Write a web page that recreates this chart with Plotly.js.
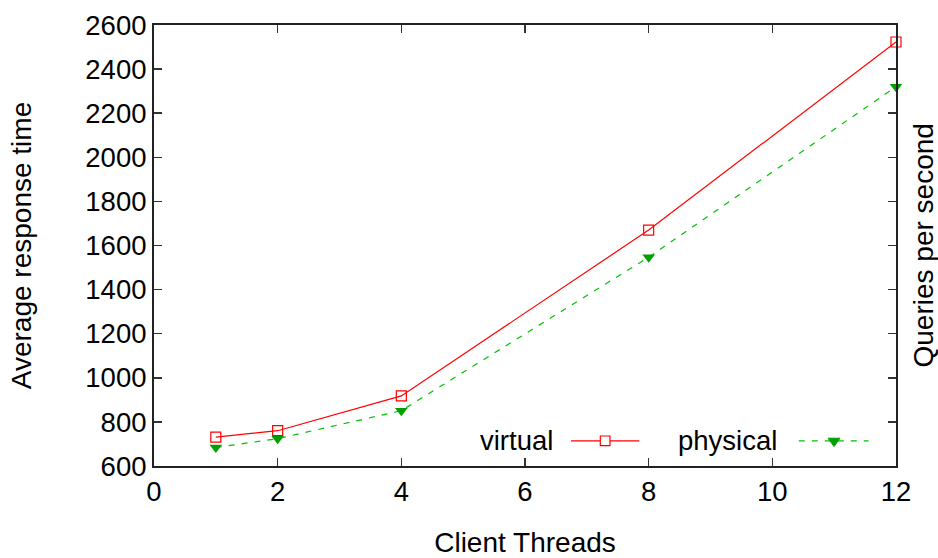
<!DOCTYPE html>
<html>
<head>
<meta charset="utf-8">
<script src="https://cdn.plot.ly/plotly-3.0.1.min.js"></script>
<style>html,body{margin:0;padding:0;background:#fff;}#chart{width:938px;height:558px;}</style>
</head>
<body>
<div id="chart"></div>
<script>
// Data
const clientThreads = [1, 2, 4, 8, 12];
const virtualValues = [731, 760, 918, 1670, 2523];
const physicalValues = [684, 724, 851, 1547, 2320];
const seriesNames = ["virtual", "physical"];
const xTickValues = [0, 2, 4, 6, 8, 10, 12];
const yTickValues = [600, 800, 1000, 1200, 1400, 1600, 1800, 2000, 2200, 2400, 2600];

const FONT = "Liberation Sans, Arial, Helvetica, sans-serif";
const FS = 27.5;
const TFS = 28;

const traces = [
  {
    x: clientThreads, y: virtualValues, name: seriesNames[0],
    mode: "lines+markers", type: "scatter", cliponaxis: false,
    line: {color: "#ff0000", width: 1.2},
    marker: {symbol: "square-open", size: 10, color: "#ff0000", line: {width: 1.2}}
  },
  {
    x: clientThreads, y: physicalValues, name: seriesNames[1],
    mode: "lines+markers", type: "scatter", cliponaxis: false,
    line: {color: "#00c000", width: 1.2, dash: "6px,7px"},
    marker: {symbol: "triangle-down", size: 11, color: "#00a000"}
  }
];

const layout = {
  width: 938, height: 558,
  margin: {l: 154, r: 42, t: 25, b: 92},
  paper_bgcolor: "#fff", plot_bgcolor: "#fff",
  showlegend: false,
  font: {family: FONT, size: FS, color: "#000"},
  xaxis: {
    range: [0, 12], tickvals: xTickValues, ticktext: xTickValues.map(String),
    ticks: "inside", ticklen: 8, tickwidth: 1.5, tickcolor: "#333",
    showline: true, linecolor: "#222", linewidth: 2, mirror: "ticks",
    showgrid: false, zeroline: false,
    tickfont: {family: FONT, size: FS, color: "#000"},
    title: {text: "Client Threads", font: {family: FONT, size: TFS, color: "#000"}, standoff: 31}
  },
  yaxis: {
    range: [600, 2600], tickvals: yTickValues, ticktext: yTickValues.map(String),
    ticks: "inside", ticklen: 8, tickwidth: 1.5, tickcolor: "#333",
    showline: true, linecolor: "#222", linewidth: 2, mirror: "ticks",
    showgrid: false, zeroline: false,
    tickfont: {family: FONT, size: FS, color: "#000"},
    title: {text: "Average response time", font: {family: FONT, size: TFS, color: "#000"}, standoff: 46}
  },
  annotations: [
    {text: "Queries per second", xref: "paper", yref: "paper", x: 1, xshift: 27, y: 0.5,
     textangle: -90, showarrow: false, font: {family: FONT, size: TFS, color: "#000"}, xanchor: "center", yanchor: "middle"},
    {text: seriesNames[0], xref: "paper", yref: "paper", x: 0.5405, y: 0.057, xanchor: "right", yanchor: "middle",
     showarrow: false, font: {family: FONT, size: FS, color: "#000"}},
    {text: seriesNames[1], xref: "paper", yref: "paper", x: 0.842, y: 0.057, xanchor: "right", yanchor: "middle",
     showarrow: false, font: {family: FONT, size: FS, color: "#000"}}
  ],
  shapes: [
    // legend sample: virtual
    {type: "line", xref: "paper", yref: "paper", x0: 0.562, x1: 0.654, y0: 0.057, y1: 0.057,
     line: {color: "#ff0000", width: 1.2}},
    {type: "rect", xref: "paper", yref: "paper", x0: 0.6015, x1: 0.6145, y0: 0.046, y1: 0.068,
     line: {color: "#ff0000", width: 1.2}, fillcolor: "#ffffff"},
    // legend sample: physical
    {type: "line", xref: "paper", yref: "paper", x0: 0.869, x1: 0.963, y0: 0.057, y1: 0.057,
     line: {color: "#00c000", width: 1.2, dash: "6px,7px"}},
    {type: "path", xref: "paper", yref: "paper",
     path: "M 0.9085 0.063 L 0.9245 0.063 L 0.9165 0.044 Z",
     line: {color: "#00a000", width: 1}, fillcolor: "#00a000"}
  ]
};

Plotly.newPlot("chart", traces, layout, {displayModeBar: false, staticPlot: true});
</script>
</body>
</html>
